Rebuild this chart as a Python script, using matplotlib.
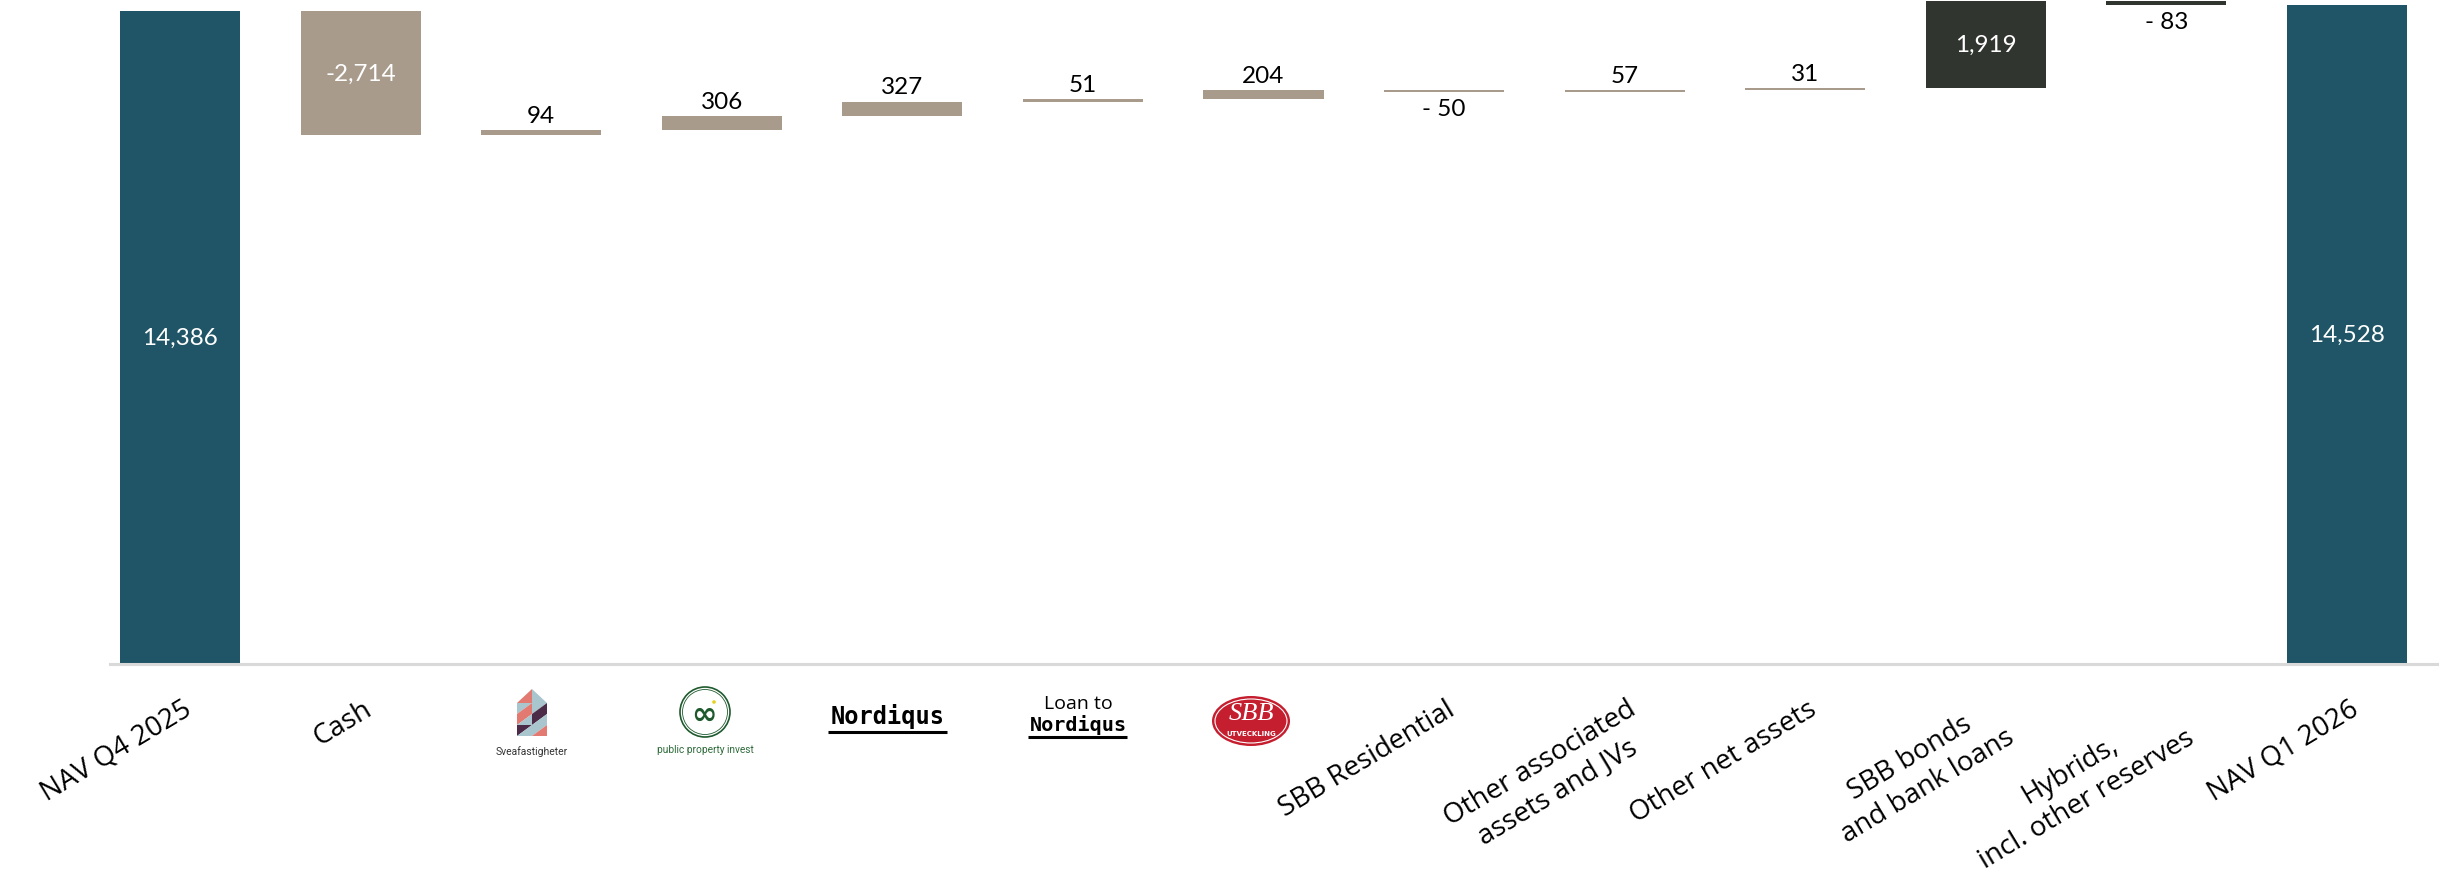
import matplotlib
matplotlib.use("Agg")
import matplotlib.pyplot as plt
from matplotlib.patches import Polygon, Ellipse, Circle
import numpy as np

# ---------------- data ----------------
categories = ["NAV Q4 2025", "Cash", "", "", "", "", "", "SBB Residential",
              "Other associated\nassets and JVs", "Other net assets",
              "SBB bonds\nand bank loans", "Hybrids,\nincl. other reserves",
              "NAV Q1 2026"]
start_value = 14386
deltas = [-2714, 94, 306, 327, 51, 204, -50, 57, 31, 1919, -83]
end_value = 14528
value_labels = ["14,386", "-2,714", "94", "306", "327", "51", "204", "- 50",
                "57", "31", "1,919", "- 83", "14,528"]
kinds = ["total"] + ["asset"] * 9 + ["liab"] * 2 + ["total"]

TEAL = "#1F5566"
TAN = "#A89B8C"
DARK = "#31352F"
colors = {"total": TEAL, "asset": TAN, "liab": DARK}

# ------------- waterfall geometry -------------
bottoms, heights = [0], [start_value]
level = start_value
for d in deltas:
    lo = level + min(d, 0)
    bottoms.append(lo)
    heights.append(abs(d))
    level += d
bottoms.append(0)
heights.append(end_value)
signed = [start_value] + deltas + [end_value]

W, H = 2453, 870
fig = plt.figure(figsize=(W / 100, H / 100), dpi=100)
ax = fig.add_axes([110 / W, (H - 665) / H, (2437 - 110) / W, 665 / H])
x = np.arange(len(categories))
bars = ax.bar(x, heights, bottom=bottoms, width=0.665,
              color=[colors[k] for k in kinds], linewidth=0, zorder=2)
ax.set_xlim(-0.388, 12.499)
ax.set_ylim(0, 14660)

for s in ["top", "right", "left"]:
    ax.spines[s].set_visible(False)
ax.spines["bottom"].set_color("#D9D9D9")
ax.spines["bottom"].set_linewidth(2.2)
ax.set_yticks([])
ax.set_xticks([])

VFONT = "Lato"
CFONT = "Open Sans"
VFS = 17.5
for i, (b, h, v, lab) in enumerate(zip(bottoms, heights, signed, value_labels)):
    if abs(v) > 1000:
        ax.text(i, b + h / 2, lab, ha="center", va="center", color="white",
                fontsize=VFS, family=VFONT)
    elif v >= 0:
        ax.annotate(lab, (i, b + h), xytext=(0, 3), textcoords="offset points",
                    ha="center", va="bottom", fontsize=VFS, family=VFONT,
                    color="black")
    else:
        ax.annotate(lab, (i, b), xytext=(0, -4), textcoords="offset points",
                    ha="center", va="top", fontsize=VFS, family=VFONT,
                    color="black")

# category labels
for i, c in enumerate(categories):
    if not c:
        continue
    ax.text(i + 0.01, -0.046, c, transform=ax.get_xaxis_transform(),
            rotation=31, rotation_mode="anchor", ha="right", va="top",
            multialignment="center", fontsize=20, family=CFONT,
            linespacing=1.25, color="black")

# ------------- logos (overlay in pixel coords) -------------
ov = fig.add_axes([0, 0, 1, 1], zorder=5)
ov.set_xlim(0, W)
ov.set_ylim(H, 0)
ov.axis("off")

# Sveafastigheter icon
SAL, LB, PUR = "#E27A72", "#A9C5CD", "#4B2B47"
x0, x1, xm = 517, 547, 532
ov.add_patch(Polygon([(x0, 704), (xm, 690), (xm, 704)], color=SAL, lw=0))
ov.add_patch(Polygon([(xm, 690), (x1, 704), (xm, 704)], color=LB, lw=0))
cells = [  # (col, row, color upper-left tri, color lower-right tri)
    (0, 0, LB, SAL), (1, 0, LB, PUR),
    (0, 1, SAL, LB), (1, 1, PUR, LB),
    (0, 2, PUR, LB), (1, 2, LB, SAL),
]
cw, ch = 15, 11
for col, row, c1, c2 in cells:
    cx0, cy0 = x0 + col * cw, 704 + row * ch
    ov.add_patch(Polygon([(cx0, cy0), (cx0 + cw, cy0), (cx0, cy0 + ch)],
                         color=c1, lw=0))
    ov.add_patch(Polygon([(cx0 + cw, cy0), (cx0 + cw, cy0 + ch), (cx0, cy0 + ch)],
                         color=c2, lw=0))
ov.text(532, 752, "Sveafastigheter", ha="center", va="center", fontsize=7.5,
        family="Roboto", color="#333333")

# public property invest
GR = "#1F5A2E"
ov.add_patch(Circle((705, 713), 25, fill=False, ec=GR, lw=1.2))
ov.add_patch(Circle((705, 713), 22.5, fill=False, ec=GR, lw=0.6))
ov.text(704, 715, "\u221e", ha="center", va="center", fontsize=22,
        fontweight="bold", color=GR, family="DejaVu Sans")
ov.add_patch(Circle((714, 703), 1.8, color="#E5D21F", lw=0))
ov.text(705, 750, "public property invest", ha="center", va="center",
        fontsize=7.3, family="Roboto", color="#2E6B3A")

# Nordiqus
ov.text(888, 717, "Nordiqus", ha="center", va="center", fontsize=17,
        fontweight="bold", family="DejaVu Sans Mono", color="black")
ov.plot([828, 947], [733, 733], color="black", lw=2.2, solid_capstyle="butt")

# Loan to Nordiqus
ov.text(1078, 704, "Loan to", ha="center", va="center", fontsize=14,
        family=CFONT, color="black")
ov.text(1078, 725, "Nordiqus", ha="center", va="center", fontsize=14.5,
        fontweight="bold", family="DejaVu Sans Mono", color="black")
ov.plot([1028, 1127], [738, 738], color="black", lw=2.2, solid_capstyle="butt")

# SBB Utveckling
ov.add_patch(Ellipse((1251, 722), 78, 50, color="#C41E2F", lw=0))
ov.add_patch(Ellipse((1251, 722), 72, 44, fill=False, ec="white", lw=0.8))
ov.text(1251, 714, "SBB", ha="center", va="center", fontsize=19,
        style="italic", family="Liberation Serif", color="white")
ov.text(1251, 734, "UTVECKLING", ha="center", va="center", fontsize=5,
        fontweight="bold", family="DejaVu Sans", color="white")

fig.savefig("out.png", dpi=100, facecolor="white")
